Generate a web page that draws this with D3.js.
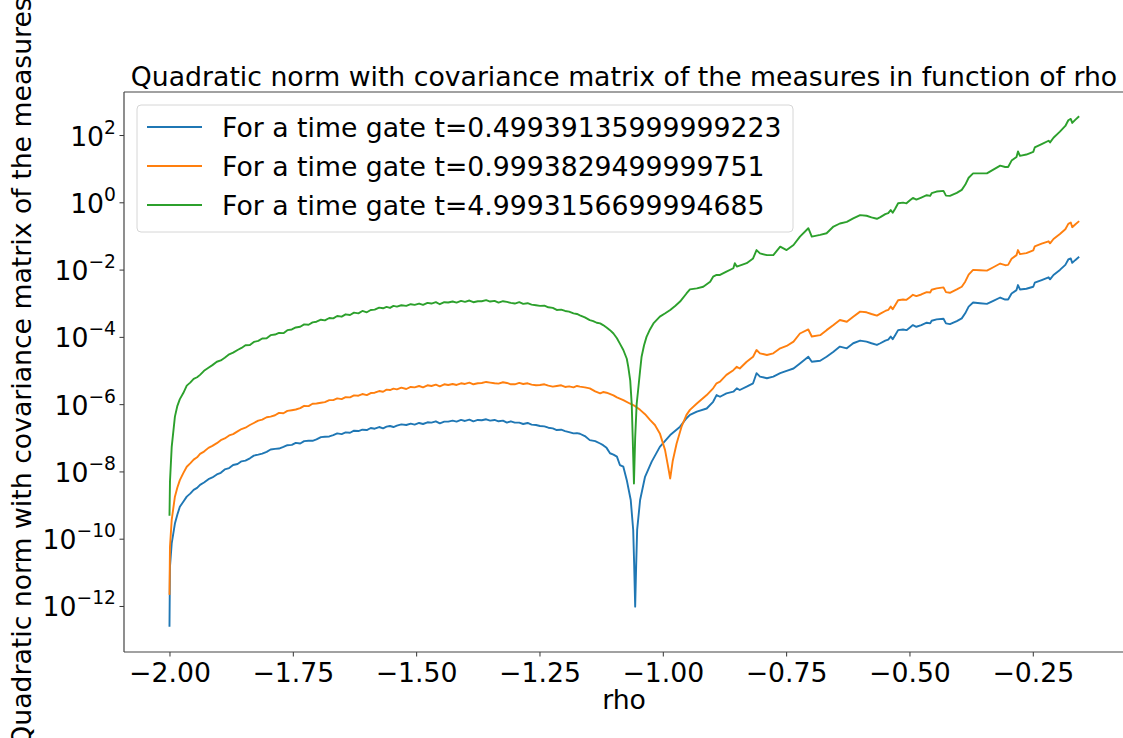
<!DOCTYPE html>
<html><head><meta charset="utf-8">
<script src="https://cdn.jsdelivr.net/npm/d3@7"></script>
<style>
html,body{margin:0;padding:0;background:#fff;overflow:hidden}
text{font-family:"DejaVu Sans",sans-serif;fill:#000}
</style></head>
<body>
<svg id="chart" width="1123" height="738"></svg>
<script>
// ---- data: [rho, log10(quadratic norm)] ----
const seriesLabels = [
  "For a time gate t=0.49939135999999223",
  "For a time gate t=0.9993829499999751",
  "For a time gate t=4.9993156699994685"
];
const seriesColors = ["#1f77b4", "#ff7f0e", "#2ca02c"];

const blueData = [
[-2.000,-12.62],[-1.999,-10.83],[-1.9955,-10.14],[-1.989,-9.55],[-1.984,-9.28],[-1.979,-9.05],[-1.972,-8.90],[-1.965,-8.75],[-1.958,-8.66],[-1.951,-8.55],
[-1.944,-8.49],[-1.938,-8.40],[-1.930,-8.33],[-1.921,-8.23],[-1.913,-8.18],[-1.904,-8.09],[-1.896,-8.04],[-1.888,-7.94],[-1.879,-7.90],[-1.871,-7.81],
[-1.862,-7.78],[-1.854,-7.70],[-1.846,-7.68],[-1.837,-7.61],[-1.829,-7.53],[-1.820,-7.50],[-1.812,-7.47],[-1.803,-7.42],[-1.795,-7.35],[-1.786,-7.33],
[-1.778,-7.32],[-1.769,-7.27],[-1.761,-7.22],[-1.752,-7.21],[-1.744,-7.15],[-1.735,-7.17],[-1.727,-7.10],[-1.718,-7.09],[-1.710,-7.09],[-1.702,-7.05],
[-1.693,-6.98],[-1.685,-6.97],[-1.676,-6.96],[-1.668,-6.92],[-1.660,-6.87],[-1.651,-6.89],[-1.643,-6.84],[-1.634,-6.85],[-1.626,-6.79],[-1.617,-6.80],
[-1.609,-6.76],[-1.600,-6.77],[-1.592,-6.71],[-1.584,-6.73],[-1.575,-6.68],[-1.567,-6.72],[-1.560,-6.67],[-1.553,-6.65],[-1.546,-6.68],[-1.539,-6.64],
[-1.530,-6.60],[-1.520,-6.62],[-1.511,-6.58],[-1.503,-6.61],[-1.494,-6.56],[-1.486,-6.59],[-1.477,-6.54],[-1.469,-6.55],[-1.460,-6.51],[-1.452,-6.57],
[-1.443,-6.52],[-1.435,-6.52],[-1.426,-6.49],[-1.418,-6.52],[-1.409,-6.47],[-1.401,-6.50],[-1.392,-6.46],[-1.384,-6.51],[-1.375,-6.47],[-1.367,-6.48],
[-1.358,-6.45],[-1.350,-6.49],[-1.341,-6.47],[-1.333,-6.51],[-1.324,-6.49],[-1.316,-6.55],[-1.308,-6.51],[-1.300,-6.55],[-1.291,-6.55],[-1.283,-6.59],
[-1.274,-6.56],[-1.266,-6.61],[-1.257,-6.62],[-1.249,-6.65],[-1.240,-6.66],[-1.232,-6.70],[-1.223,-6.72],[-1.215,-6.77],[-1.206,-6.76],[-1.198,-6.80],
[-1.190,-6.83],[-1.181,-6.87],[-1.174,-6.86],[-1.168,-6.88],[-1.158,-6.95],[-1.148,-7.07],[-1.137,-7.10],[-1.127,-7.17],[-1.121,-7.22],[-1.114,-7.30],
[-1.107,-7.46],[-1.100,-7.50],[-1.093,-7.56],[-1.087,-7.81],[-1.080,-7.86],[-1.073,-8.26],[-1.065,-8.85],[-1.060,-9.74],[-1.058,-10.8],[-1.056,-12.02],
[-1.054,-10.8],[-1.052,-9.74],[-1.046,-8.85],[-1.036,-8.16],[-1.0225,-7.71],[-1.006,-7.27],[-0.985,-6.92],[-0.965,-6.67],[-0.952,-6.42],[-0.945,-6.32],
[-0.931,-6.22],[-0.911,-6.13],[-0.898,-5.93],[-0.891,-5.73],[-0.884,-5.78],[-0.871,-5.68],[-0.857,-5.63],[-0.850,-5.53],[-0.844,-5.58],[-0.830,-5.48],
[-0.817,-5.38],[-0.810,-5.08],[-0.803,-5.18],[-0.789,-5.23],[-0.776,-5.18],[-0.762,-5.08],[-0.749,-5.01],[-0.735,-4.94],[-0.722,-4.79],[-0.705,-4.59],
[-0.698,-4.74],[-0.681,-4.71],[-0.668,-4.59],[-0.654,-4.44],[-0.641,-4.29],[-0.627,-4.34],[-0.614,-4.19],[-0.600,-4.11],[-0.587,-4.14],[-0.577,-4.19],
[-0.566,-4.24],[-0.559,-4.19],[-0.549,-4.11],[-0.543,-4.08],[-0.538,-3.99],[-0.534,-4.07],[-0.529,-3.95],[-0.523,-3.80],[-0.513,-3.78],[-0.506,-3.80],
[-0.499,-3.72],[-0.493,-3.65],[-0.486,-3.70],[-0.476,-3.65],[-0.465,-3.58],[-0.458,-3.60],[-0.455,-3.52],[-0.445,-3.48],[-0.431,-3.46],[-0.426,-3.60],
[-0.418,-3.62],[-0.404,-3.53],[-0.394,-3.45],[-0.387,-3.30],[-0.380,-3.10],[-0.371,-2.98],[-0.357,-3.00],[-0.343,-3.02],[-0.330,-2.93],[-0.316,-2.83],
[-0.306,-2.89],[-0.300,-2.89],[-0.293,-2.71],[-0.283,-2.61],[-0.280,-2.46],[-0.276,-2.59],[-0.263,-2.57],[-0.249,-2.51],[-0.246,-2.39],[-0.232,-2.31],
[-0.218,-2.23],[-0.215,-2.29],[-0.208,-2.16],[-0.195,-2.01],[-0.184,-1.86],[-0.178,-1.70],[-0.173,-1.67],[-0.170,-1.80],[-0.164,-1.72],[-0.156,-1.62]
];

const orangeData = [
[-2.000,-11.67],[-1.999,-10.24],[-1.9955,-9.44],[-1.989,-8.75],[-1.984,-8.48],[-1.979,-8.26],[-1.972,-8.05],[-1.965,-7.86],[-1.958,-7.76],[-1.951,-7.65],
[-1.944,-7.58],[-1.938,-7.48],[-1.930,-7.41],[-1.921,-7.30],[-1.913,-7.24],[-1.904,-7.16],[-1.896,-7.07],[-1.888,-7.02],[-1.879,-6.93],[-1.871,-6.89],
[-1.862,-6.81],[-1.854,-6.74],[-1.846,-6.70],[-1.837,-6.62],[-1.829,-6.56],[-1.820,-6.49],[-1.812,-6.46],[-1.803,-6.39],[-1.795,-6.37],[-1.786,-6.33],
[-1.778,-6.26],[-1.769,-6.27],[-1.761,-6.20],[-1.752,-6.18],[-1.744,-6.16],[-1.735,-6.12],[-1.727,-6.05],[-1.718,-6.06],[-1.710,-5.99],[-1.702,-5.98],
[-1.693,-5.96],[-1.685,-5.94],[-1.676,-5.88],[-1.668,-5.88],[-1.660,-5.83],[-1.651,-5.85],[-1.643,-5.79],[-1.634,-5.80],[-1.626,-5.74],[-1.617,-5.75],
[-1.609,-5.70],[-1.600,-5.73],[-1.592,-5.67],[-1.584,-5.66],[-1.575,-5.61],[-1.567,-5.63],[-1.560,-5.57],[-1.553,-5.58],[-1.546,-5.54],[-1.539,-5.56],
[-1.530,-5.51],[-1.520,-5.55],[-1.511,-5.49],[-1.503,-5.50],[-1.494,-5.46],[-1.486,-5.50],[-1.477,-5.44],[-1.469,-5.46],[-1.460,-5.42],[-1.452,-5.47],
[-1.443,-5.41],[-1.435,-5.43],[-1.426,-5.40],[-1.418,-5.43],[-1.409,-5.38],[-1.401,-5.40],[-1.392,-5.36],[-1.384,-5.41],[-1.375,-5.38],[-1.367,-5.37],
[-1.358,-5.34],[-1.350,-5.36],[-1.341,-5.38],[-1.333,-5.39],[-1.324,-5.35],[-1.316,-5.37],[-1.308,-5.41],[-1.300,-5.41],[-1.291,-5.37],[-1.283,-5.40],
[-1.274,-5.38],[-1.266,-5.42],[-1.257,-5.44],[-1.249,-5.43],[-1.240,-5.41],[-1.232,-5.45],[-1.223,-5.48],[-1.215,-5.46],[-1.206,-5.44],[-1.198,-5.49],
[-1.190,-5.47],[-1.181,-5.50],[-1.174,-5.46],[-1.168,-5.48],[-1.158,-5.50],[-1.148,-5.53],[-1.137,-5.62],[-1.127,-5.68],[-1.121,-5.64],[-1.114,-5.66],
[-1.100,-5.74],[-1.093,-5.80],[-1.080,-5.88],[-1.067,-5.98],[-1.056,-6.06],[-1.046,-6.17],[-1.036,-6.30],[-1.026,-6.47],[-1.016,-6.62],[-1.006,-6.87],
[-0.9955,-7.36],[-0.990,-7.80],[-0.985,-8.21],[-0.980,-7.70],[-0.972,-7.17],[-0.962,-6.67],[-0.952,-6.32],[-0.945,-6.17],[-0.931,-5.98],[-0.911,-5.73],
[-0.898,-5.53],[-0.891,-5.38],[-0.884,-5.33],[-0.871,-5.13],[-0.857,-4.99],[-0.850,-4.89],[-0.844,-4.94],[-0.830,-4.74],[-0.817,-4.59],[-0.810,-4.39],
[-0.803,-4.49],[-0.789,-4.54],[-0.776,-4.49],[-0.762,-4.34],[-0.749,-4.27],[-0.735,-4.14],[-0.722,-3.90],[-0.705,-3.78],[-0.698,-3.99],[-0.681,-3.95],
[-0.668,-3.80],[-0.654,-3.65],[-0.641,-3.50],[-0.627,-3.55],[-0.614,-3.40],[-0.600,-3.25],[-0.587,-3.27],[-0.577,-3.32],[-0.566,-3.37],[-0.559,-3.31],
[-0.549,-3.23],[-0.543,-3.20],[-0.538,-3.10],[-0.534,-3.18],[-0.529,-3.06],[-0.523,-2.91],[-0.513,-2.89],[-0.506,-2.90],[-0.499,-2.82],[-0.493,-2.75],
[-0.486,-2.79],[-0.476,-2.74],[-0.465,-2.67],[-0.458,-2.68],[-0.455,-2.60],[-0.445,-2.56],[-0.431,-2.53],[-0.426,-2.67],[-0.418,-2.69],[-0.404,-2.59],
[-0.394,-2.51],[-0.387,-2.36],[-0.380,-2.15],[-0.371,-2.01],[-0.357,-2.02],[-0.343,-2.03],[-0.330,-1.93],[-0.316,-1.82],[-0.306,-1.87],[-0.300,-1.86],
[-0.293,-1.68],[-0.283,-1.57],[-0.280,-1.42],[-0.276,-1.54],[-0.263,-1.51],[-0.249,-1.43],[-0.246,-1.31],[-0.232,-1.23],[-0.218,-1.16],[-0.215,-1.22],
[-0.208,-1.09],[-0.195,-0.94],[-0.184,-0.80],[-0.178,-0.64],[-0.173,-0.60],[-0.170,-0.74],[-0.164,-0.66],[-0.156,-0.56]
];

const greenData = [
[-2.000,-9.32],[-1.999,-8.30],[-1.9955,-7.27],[-1.989,-6.37],[-1.984,-6.05],[-1.979,-5.85],[-1.972,-5.67],[-1.965,-5.45],[-1.958,-5.36],[-1.951,-5.25],
[-1.944,-5.20],[-1.938,-5.13],[-1.930,-5.01],[-1.921,-4.92],[-1.913,-4.84],[-1.904,-4.74],[-1.896,-4.70],[-1.888,-4.62],[-1.879,-4.52],[-1.871,-4.47],
[-1.862,-4.39],[-1.854,-4.33],[-1.846,-4.25],[-1.837,-4.24],[-1.829,-4.15],[-1.820,-4.12],[-1.812,-4.05],[-1.803,-4.04],[-1.795,-3.95],[-1.786,-3.93],
[-1.778,-3.88],[-1.769,-3.89],[-1.761,-3.80],[-1.752,-3.78],[-1.744,-3.72],[-1.735,-3.70],[-1.727,-3.63],[-1.718,-3.64],[-1.710,-3.57],[-1.702,-3.55],
[-1.693,-3.49],[-1.685,-3.51],[-1.676,-3.44],[-1.668,-3.45],[-1.660,-3.38],[-1.651,-3.40],[-1.643,-3.33],[-1.634,-3.35],[-1.626,-3.28],[-1.617,-3.30],
[-1.609,-3.23],[-1.600,-3.27],[-1.592,-3.20],[-1.584,-3.19],[-1.575,-3.13],[-1.567,-3.15],[-1.560,-3.11],[-1.553,-3.14],[-1.546,-3.08],[-1.539,-3.10],
[-1.530,-3.06],[-1.520,-3.08],[-1.511,-3.03],[-1.503,-3.05],[-1.494,-3.01],[-1.486,-3.05],[-1.477,-2.99],[-1.469,-3.01],[-1.460,-2.97],[-1.452,-3.03],
[-1.443,-2.97],[-1.435,-2.98],[-1.426,-2.95],[-1.418,-2.98],[-1.409,-2.93],[-1.401,-2.96],[-1.392,-2.92],[-1.384,-2.97],[-1.375,-2.94],[-1.367,-2.94],
[-1.358,-2.91],[-1.350,-2.95],[-1.341,-2.93],[-1.333,-2.98],[-1.324,-2.94],[-1.316,-2.96],[-1.308,-2.99],[-1.300,-3.01],[-1.291,-2.97],[-1.283,-3.02],
[-1.274,-3.00],[-1.266,-3.04],[-1.257,-3.06],[-1.249,-3.08],[-1.240,-3.07],[-1.232,-3.12],[-1.223,-3.14],[-1.215,-3.20],[-1.206,-3.19],[-1.198,-3.23],
[-1.190,-3.25],[-1.181,-3.30],[-1.174,-3.32],[-1.168,-3.36],[-1.158,-3.42],[-1.148,-3.50],[-1.141,-3.53],[-1.134,-3.58],[-1.127,-3.60],[-1.121,-3.65],
[-1.114,-3.72],[-1.107,-3.80],[-1.100,-3.90],[-1.093,-4.04],[-1.087,-4.20],[-1.080,-4.39],[-1.073,-4.65],[-1.070,-4.89],[-1.066,-5.30],[-1.063,-6.00],
[-1.061,-7.00],[-1.0585,-8.36],[-1.056,-7.00],[-1.053,-6.00],[-1.050,-5.58],[-1.046,-5.00],[-1.043,-4.59],[-1.038,-4.25],[-1.033,-4.00],[-1.026,-3.78],
[-1.019,-3.60],[-1.006,-3.40],[-0.995,-3.30],[-0.985,-3.20],[-0.975,-3.08],[-0.965,-2.95],[-0.952,-2.71],[-0.945,-2.59],[-0.931,-2.56],[-0.918,-2.51],
[-0.904,-2.36],[-0.898,-2.21],[-0.891,-2.16],[-0.884,-2.16],[-0.871,-2.06],[-0.857,-1.96],[-0.854,-1.81],[-0.850,-1.91],[-0.830,-1.81],[-0.817,-1.67],
[-0.810,-1.42],[-0.803,-1.52],[-0.789,-1.57],[-0.776,-1.57],[-0.762,-1.32],[-0.749,-1.42],[-0.735,-1.27],[-0.722,-1.02],[-0.705,-0.77],[-0.698,-1.02],
[-0.681,-0.97],[-0.668,-0.92],[-0.654,-0.72],[-0.641,-0.63],[-0.627,-0.58],[-0.614,-0.48],[-0.600,-0.38],[-0.587,-0.40],[-0.577,-0.45],[-0.566,-0.49],
[-0.559,-0.44],[-0.549,-0.35],[-0.543,-0.32],[-0.538,-0.23],[-0.534,-0.31],[-0.529,-0.19],[-0.523,-0.03],[-0.513,-0.01],[-0.506,-0.03],[-0.499,0.06],
[-0.493,0.13],[-0.486,0.08],[-0.476,0.14],[-0.465,0.21],[-0.458,0.19],[-0.455,0.27],[-0.445,0.32],[-0.431,0.34],[-0.426,0.20],[-0.418,0.19],
[-0.404,0.28],[-0.394,0.37],[-0.387,0.52],[-0.380,0.73],[-0.371,0.86],[-0.357,0.86],[-0.343,0.86],[-0.330,0.97],[-0.316,1.09],[-0.306,1.05],
[-0.300,1.05],[-0.293,1.24],[-0.283,1.35],[-0.280,1.51],[-0.276,1.38],[-0.263,1.42],[-0.249,1.50],[-0.246,1.63],[-0.232,1.73],[-0.218,1.83],
[-0.215,1.78],[-0.208,1.92],[-0.195,2.10],[-0.184,2.27],[-0.178,2.44],[-0.173,2.48],[-0.170,2.36],[-0.164,2.45],[-0.156,2.56]
];

const xTicks = [-2.00,-1.75,-1.50,-1.25,-1.00,-0.75,-0.50,-0.25];
const yTickExps = [-12,-10,-8,-6,-4,-2,0,2];

const titleText = "Quadratic norm with covariance matrix of the measures in function of rho";
const xLabelText = "rho";
const yLabelText = "Quadratic norm with covariance matrix of the measures";

// ---- drawing ----
const FS = 26.7;
const svg = d3.select("#chart");
const L = 124, R = 1124, T = 92, B = 652;
const x = d3.scaleLinear().domain([-2.0922, -0.0651]).range([L, R]);
const y = d3.scaleLog().domain([Math.pow(10,-13.368), Math.pow(10,3.279)]).range([B, T]);

const series = [blueData, orangeData, greenData];

svg.append("clipPath").attr("id","clip").append("rect")
  .attr("x", L).attr("y", T).attr("width", R-L).attr("height", B-T);

const line = d3.line().x(d => x(d[0])).y(d => y(Math.pow(10, d[1])));
const plot = svg.append("g").attr("clip-path","url(#clip)");
series.forEach((s,i) => {
  plot.append("path").datum(s)
    .attr("d", line).attr("fill","none")
    .attr("stroke", seriesColors[i]).attr("stroke-width", 1.9)
    .attr("stroke-linejoin","round");
});

// x axis
const xAxis = d3.axisBottom(x).tickValues(xTicks).tickSize(4.5).tickPadding(7)
  .tickFormat(d => d3.format(".2f")(d).replace("-", "\u2212"));
const gx = svg.append("g").attr("transform", `translate(0,${B})`).call(xAxis);
gx.select(".domain").remove();
gx.selectAll(".tick line").attr("stroke","#333").attr("stroke-width",1);
gx.selectAll(".tick text").attr("font-size", FS).attr("font-family","DejaVu Sans").attr("fill","#000");

// y axis
const yAxis = d3.axisLeft(y).tickValues(yTickExps.map(e => Math.pow(10,e))).tickSize(4.5).tickFormat("");
const gy = svg.append("g").attr("transform", `translate(${L},0)`).call(yAxis);
gy.select(".domain").remove();
gy.selectAll(".tick line").attr("stroke","#333").attr("stroke-width",1);
gy.selectAll(".tick").each(function(d){
  const e = Math.round(Math.log10(d));
  const t = d3.select(this).append("text")
    .attr("x", -8).attr("y", 10).attr("text-anchor","end")
    .attr("font-size", FS).attr("fill","#000");
  t.append("tspan").text("10");
  t.append("tspan").attr("dy", -12).attr("font-size", 18.7)
    .text(e < 0 ? "\u2212" + Math.abs(e) : String(e));
});

// spines (left, bottom, top; right is off-canvas)
const sp = svg.append("g").attr("stroke","#444").attr("stroke-width",1.2).attr("fill","none");
sp.append("line").attr("x1",L).attr("x2",L).attr("y1",T).attr("y2",B);
sp.append("line").attr("x1",L).attr("x2",R).attr("y1",B).attr("y2",B);
sp.append("line").attr("x1",L).attr("x2",R).attr("y1",T).attr("y2",T);

// title and labels
svg.append("text").attr("x", (L+R)/2).attr("y", 86).attr("text-anchor","middle")
  .attr("font-size", FS).text(titleText);
svg.append("text").attr("x", (L+R)/2).attr("y", 709).attr("text-anchor","middle")
  .attr("font-size", FS).text(xLabelText);
svg.append("text").attr("transform", `translate(31,${(T+B)/2}) rotate(-90)`)
  .attr("text-anchor","middle").attr("font-size", FS).text(yLabelText);

// legend
const lg = svg.append("g");
lg.append("rect").attr("x",137).attr("y",105).attr("width",656).attr("height",127)
  .attr("rx",4).attr("fill","#fff").attr("fill-opacity",0.8)
  .attr("stroke","#d6d6d6").attr("stroke-width",1);
seriesLabels.forEach((lab,i) => {
  const cy = 127 + i*39;
  lg.append("line").attr("x1",147).attr("x2",202).attr("y1",cy).attr("y2",cy)
    .attr("stroke", seriesColors[i]).attr("stroke-width",1.9);
  lg.append("text").attr("x",222).attr("y",cy+9.5).attr("font-size",FS).text(lab);
});
</script>
</body></html>
